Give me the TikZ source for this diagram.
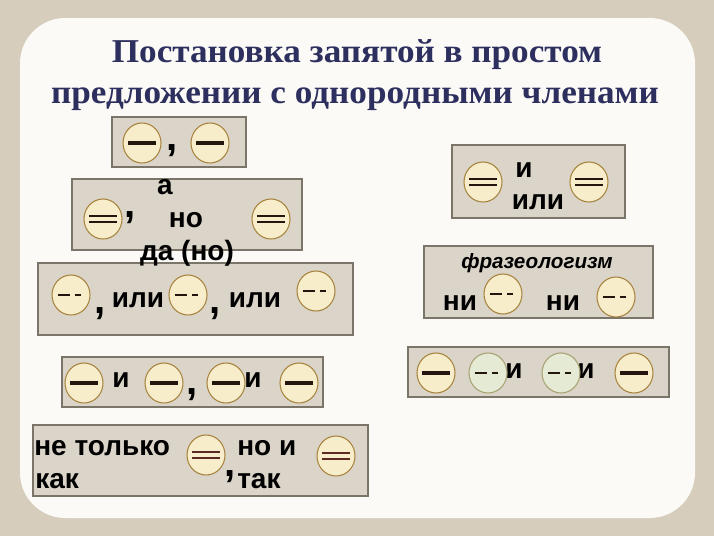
\documentclass[tikz,border=0pt]{standalone}
\usepackage{fontspec}
\setmainfont{Liberation Sans}
\newfontfamily\titlefont{Liberation Serif}
\usetikzlibrary{shapes.geometric}

\definecolor{frame}{HTML}{D6CDBD}
\definecolor{sheet}{HTML}{FBFAF6}
\definecolor{ink}{HTML}{2D2F5E}
\definecolor{boxfill}{HTML}{DAD4C9}
\definecolor{boxedge}{HTML}{7B7468}
\definecolor{coinfill}{HTML}{F7EDCB}
\definecolor{coinedge}{HTML}{A8843F}
\definecolor{greenfill}{HTML}{E7EFD6}
\definecolor{greenedge}{HTML}{A9A274}
\definecolor{barcol}{HTML}{22160E}
\definecolor{redbar}{HTML}{5A2A22}

\tikzset{
  panel/.style={draw=boxedge, fill=boxfill, line width=1pt},
  title/.style={font=\titlefont\bfseries\fontsize{25}{25}\selectfont, text=ink,
    inner sep=0pt, anchor=base, xscale=1.055},
  word/.style={font=\bfseries\fontsize{21}{21}\selectfont, inner sep=0pt, anchor=base},
  leftword/.style={word, anchor=base west},
  phrase/.style={font=\bfseries\itshape\fontsize{15.5}{15.5}\selectfont, inner sep=0pt, anchor=base},
  comma/.style={font=\bfseries\fontsize{30}{30}\selectfont, inner sep=0pt, anchor=base},
  coin/.style={ellipse, draw=coinedge, fill=coinfill, line width=0.8pt,
    minimum width=28.5pt, minimum height=30pt, inner sep=0pt},
  greencoin/.style={coin, draw=greenedge, fill=greenfill, fill opacity=0.85},
  barline/.style={line width=2.4pt, draw=#1},
  barline/.default=barcol,
  onebar/.style={coin, path picture={
    \draw[barline] ([xshift=-10.5pt]path picture bounding box.center)
      -- ([xshift=10.5pt]path picture bounding box.center);}},
  twobar/.style={coin, path picture={
    \foreach \dy in {-2.1,2.1}
      \draw[barline=#1, line width=1.7pt] ([xshift=-10.5pt, yshift=\dy pt]path picture bounding box.center)
        -- ([xshift=10.5pt, yshift=\dy pt]path picture bounding box.center);}},
  twobar/.default=barcol,
  dashbar/.style={#1, path picture={
    \draw[barline, line width=2pt] ([xshift=-10pt]path picture bounding box.center)
      -- ([xshift=-1pt]path picture bounding box.center);
    \draw[barline, line width=2pt] ([xshift=3pt]path picture bounding box.center)
      -- ([xshift=7.5pt]path picture bounding box.center);}},
  dashbar/.default=coin
}

\begin{document}
\begin{tikzpicture}[x=0.75pt, y=-0.75pt]

  \useasboundingbox (0,0) rectangle (714,536);
  \fill[frame] (0,0) rectangle (714,536);
  \fill[sheet, rounded corners=34pt] (20,18) rectangle (695,518);

  \node[title] (t1) at (357,62) {Постановка запятой в простом};
  \node[title] (t2) at (355,103) {предложении с однородными членами};

  \draw[panel] (112,117) rectangle (246,167);
  \draw[panel] (72,179) rectangle (302,250);
  \draw[panel] (38,263) rectangle (353,335);
  \draw[panel] (62,357) rectangle (323,407);
  \draw[panel] (33,425) rectangle (368,496);
  \draw[panel] (452,145) rectangle (625,218);
  \draw[panel] (424,246) rectangle (653,318);
  \draw[panel] (408,347) rectangle (669,397);

  \node[comma] (k1) at (172,150) {,};

  \node[word] (a2) at (165,194) {а};
  \node[word] (no2) at (186,227) {но};
  \node[word] (da2) at (187,260) {да (но)};
  \node[comma] (k2) at (130,217) {,};

  \node[comma] (k3a) at (100,313) {,};
  \node[word] (ili3a) at (138,307) {или};
  \node[comma] (k3b) at (215,313) {,};
  \node[word] (ili3b) at (255,307) {или};

  \node[word] (i4a) at (121,387) {и};
  \node[comma] (k4) at (192,394) {,};
  \node[word] (i4b) at (253,387) {и};

  \node[leftword] (ne5) at (34,455) {не только};
  \node[leftword] (kak5) at (35,488) {как};
  \node[comma] (k5) at (230,476) {,};
  \node[leftword] (noi5) at (237,455) {но и};
  \node[leftword] (tak5) at (237,488) {так};

  \node[word] (i6) at (524,177) {и};
  \node[word] (ili6) at (538,209) {или};

  \node[phrase] (fr7) at (537,268) {фразеологизм};
  \node[word] (ni7a) at (460,310) {ни};
  \node[word] (ni7b) at (563,310) {ни};

  \node[word] (i8a) at (514,378) {и};
  \node[word] (i8b) at (586,378) {и};

  \node[onebar] (c1a) at (142,143) {};
  \node[onebar] (c1b) at (210,143) {};

  \node[twobar] (c2a) at (103,219) {};
  \node[twobar] (c2b) at (271,219) {};

  \node[dashbar] (c3a) at (71,295) {};
  \node[dashbar] (c3b) at (188,295) {};
  \node[dashbar] (c3c) at (316,291) {};

  \node[onebar] (c4a) at (84,383) {};
  \node[onebar] (c4b) at (164,383) {};
  \node[onebar] (c4c) at (226,383) {};
  \node[onebar] (c4d) at (299,383) {};

  \node[twobar=redbar] (c5a) at (206,455) {};
  \node[twobar=redbar] (c5b) at (336,456) {};

  \node[twobar] (c6a) at (483,182) {};
  \node[twobar] (c6b) at (589,182) {};

  \node[dashbar] (c7a) at (503,294) {};
  \node[dashbar] (c7b) at (616,297) {};

  \node[onebar] (c8a) at (436,373) {};
  \node[dashbar=greencoin] (c8b) at (488,373) {};
  \node[dashbar=greencoin] (c8c) at (561,373) {};
  \node[onebar] (c8d) at (634,373) {};

\end{tikzpicture}
\end{document}
